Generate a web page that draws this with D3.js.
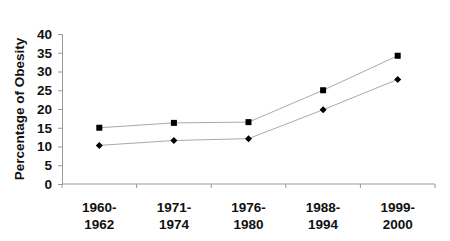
<!DOCTYPE html>
<html>
<head>
<meta charset="utf-8">
<script src="https://cdn.jsdelivr.net/npm/d3@7"></script>
<style>
  body { margin: 0; background: #fff; }
  text { font-family: "Liberation Sans", Arial, sans-serif; font-weight: bold; fill: #111; }
</style>
</head>
<body>
<div id="chart"></div>
<script>
var periods = [["1960-", "1962"], ["1971-", "1974"], ["1976-", "1980"], ["1988-", "1994"], ["1999-", "2000"]];
var upper = [15, 16.3, 16.5, 25, 34.2];   // squares
var lower = [10.3, 11.6, 12.1, 19.8, 27.9]; // diamonds
var yTicks = [0, 5, 10, 15, 20, 25, 30, 35, 40];

var svg = d3.select("#chart").append("svg").attr("width", 450).attr("height", 241);

var x = d3.scaleBand().domain(d3.range(periods.length)).range([62, 435]);
var y = d3.scaleLinear().domain([0, 40]).range([184, 34]);

// y axis
var yAxis = svg.append("g").attr("transform", "translate(62,0)")
    .call(d3.axisLeft(y).tickValues(yTicks).tickSize(4).tickPadding(6));
yAxis.select(".domain").attr("stroke", "#999");
yAxis.selectAll(".tick line").attr("stroke", "#999");
yAxis.selectAll(".tick text").style("font-size", "13.5px").attr("font-family", null);

// x axis
svg.append("line").attr("x1", 62).attr("x2", 435).attr("y1", 184).attr("y2", 184).attr("stroke", "#999");
var bounds = d3.range(periods.length + 1).map(function(i) { return i < periods.length ? x(i) : x.range()[1]; });
svg.selectAll(".xt").data(bounds).enter().append("line")
    .attr("x1", function(d) { return d; }).attr("x2", function(d) { return d; })
    .attr("y1", 184).attr("y2", 188).attr("stroke", "#999");

var labels = svg.selectAll(".xl").data(periods).enter().append("text")
    .attr("text-anchor", "middle").style("font-size", "13.5px")
    .attr("transform", function(d, i) { return "translate(" + (x(i) + x.bandwidth() / 2) + ",0)"; });
labels.append("tspan").attr("x", 0).attr("y", 211.5).text(function(d) { return d[0]; });
labels.append("tspan").attr("x", 0).attr("y", 228.5).text(function(d) { return d[1]; });

svg.append("text").attr("transform", "translate(24,109) rotate(-90)")
    .attr("text-anchor", "middle").style("font-size", "13.5px").text("Percentage of Obesity");

var line = d3.line().x(function(d, i) { return x(i) + x.bandwidth() / 2; }).y(function(d) { return y(d); });

[upper, lower].forEach(function(s) {
  svg.append("path").datum(s).attr("d", line).attr("fill", "none").attr("stroke", "#aaa").attr("stroke-width", 1);
});

svg.selectAll(".sq").data(upper).enter().append("rect")
    .attr("x", function(d, i) { return x(i) + x.bandwidth() / 2 - 3; })
    .attr("y", function(d) { return y(d) - 3; })
    .attr("width", 6).attr("height", 6).attr("fill", "#000");

svg.selectAll(".dm").data(lower).enter().append("path")
    .attr("d", "M0,-3.5L3.5,0L0,3.5L-3.5,0Z")
    .attr("transform", function(d, i) { return "translate(" + (x(i) + x.bandwidth() / 2) + "," + y(d) + ")"; })
    .attr("fill", "#000");
</script>
</body>
</html>
